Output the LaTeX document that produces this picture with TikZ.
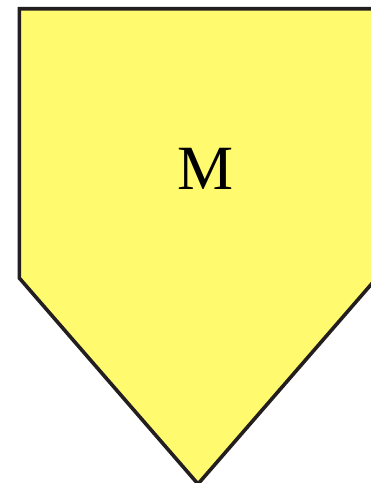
\documentclass[tikz,border=0pt]{standalone}
\usepackage{fontspec}
\setmainfont{Liberation Serif}
\definecolor{shapefill}{RGB}{255,250,110}
\definecolor{shapeline}{RGB}{35,31,32}
\tikzset{pentshape/.style={fill=shapefill,draw=shapeline,line width=3.6pt,line join=miter}}
\begin{document}
\begin{tikzpicture}[x=1pt,y=-1pt]
\useasboundingbox (0,0) rectangle (371,483);
\clip (0,0) rectangle (371,483);
\draw[pentshape] (19.3,8.7) -- (376.7,8.7) -- (376.7,278) -- (198,484) -- (19.3,278) -- cycle;
\node[font=\fontsize{63}{63}\selectfont,inner sep=0pt] (m) at (206,169) {M};
\end{tikzpicture}
\end{document}
